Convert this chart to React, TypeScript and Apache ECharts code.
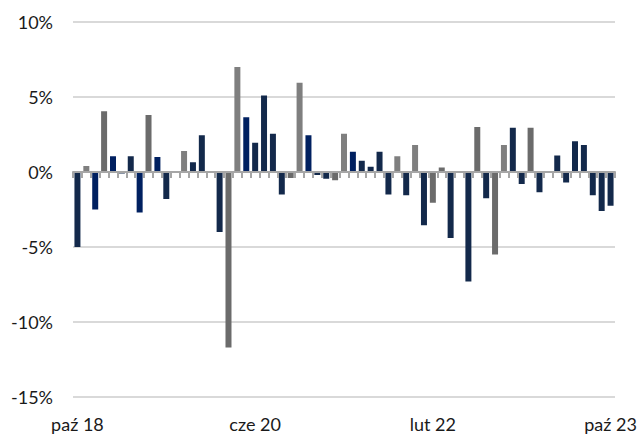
import React, { useEffect, useRef } from "react";
import * as echarts from "echarts";

const categories = [
  "paź 18", "lis 18", "gru 18",
  "sty 19", "lut 19", "mar 19", "kwi 19", "maj 19", "cze 19", "lip 19", "sie 19", "wrz 19", "paź 19", "lis 19", "gru 19",
  "sty 20", "lut 20", "mar 20", "kwi 20", "maj 20", "cze 20", "lip 20", "sie 20", "wrz 20", "paź 20", "lis 20", "gru 20",
  "sty 21", "lut 21", "mar 21", "kwi 21", "maj 21", "cze 21", "lip 21", "sie 21", "wrz 21", "paź 21", "lis 21", "gru 21",
  "sty 22", "lut 22", "mar 22", "kwi 22", "maj 22", "cze 22", "lip 22", "sie 22", "wrz 22", "paź 22", "lis 22", "gru 22",
  "sty 23", "lut 23", "mar 23", "kwi 23", "maj 23", "cze 23", "lip 23", "sie 23", "wrz 23", "paź 23",
];

const values = [
  -5.0, 0.4, -2.5, 4.05, 1.05, -0.1, 1.05, -2.7, 3.8, 1.0,
  -1.8, 0, 1.4, 0.65, 2.45, 0.05, -4.0, -11.7, 7.0, 3.65,
  1.95, 5.1, 2.55, -1.5, -0.4, 5.95, 2.45, -0.2, -0.45, -0.55,
  2.55, 1.35, 0.75, 0.35, 1.35, -1.5, 1.05, -1.55, 1.8, -3.55,
  -2.05, 0.3, -4.4, 0, -7.3, 3.0, -1.75, -5.5, 1.8, 2.95,
  -0.8, 2.95, -1.35, 0, 1.1, -0.7, 2.05, 1.8, -1.55, -2.6,
  -2.25,
];

// group of each bar: n = navy, b = blue, g = gray, d = dark gray
const groups = [
  "n", "g", "b", "d", "b", "n", "n", "b", "d", "b",
  "n", "n", "g", "n", "n", "d", "n", "d", "g", "b",
  "n", "n", "n", "n", "d", "g", "b", "n", "n", "d",
  "g", "b", "n", "n", "n", "n", "g", "n", "g", "n",
  "d", "d", "n", "n", "n", "d", "n", "d", "g", "n",
  "n", "d", "n", "n", "n", "n", "n", "n", "n", "n",
  "n",
];

const yTicks = [-15, -10, -5, 0, 5, 10];

const groupColors: Record<string, string> = {
  n: "#13294b",
  b: "#002060",
  g: "#7f7f7f",
  d: "#6b6b6b",
};

export default function App() {
  const ref = useRef<HTMLDivElement>(null);
  useEffect(() => {
    if (!ref.current) return;
    const chart = echarts.init(ref.current, undefined, { renderer: "svg" });
    const font = "Lato, 'Noto Sans', sans-serif";
    chart.setOption({
      animation: false,
      grid: { left: 73, right: 25, top: 22, bottom: 38, containLabel: false },
      xAxis: [
        {
          type: "category",
          data: categories,
          position: "bottom",
          axisLine: { show: false, onZero: false },
          axisTick: { show: false },
          axisLabel: {
            interval: 19,
            color: "#1a1a1a",
            fontSize: 18,
            fontFamily: font,
            margin: 18,
          },
          splitLine: { show: false },
        },
        {
          type: "category",
          data: categories,
          position: "top",
          z: 10,
          axisLine: { show: true, onZero: true, lineStyle: { color: "#a6a6a6", width: 2 } },
          axisTick: {
            show: true,
            inside: true,
            length: 6,
            interval: 0,
            lineStyle: { color: "#a6a6a6", width: 2 },
          },
          axisLabel: { show: false },
          splitLine: { show: false },
        },
      ],
      yAxis: {
        type: "value",
        min: yTicks[0],
        max: yTicks[yTicks.length - 1],
        interval: 5,
        axisLine: { show: false },
        axisTick: { show: false },
        axisLabel: {
          formatter: (v: number) => `${v}%`,
          color: "#1a1a1a",
          fontSize: 18,
          fontFamily: font,
          margin: 20,
        },
        splitLine: { show: true, lineStyle: { color: "#d9d9d9", width: 2 } },
      },
      series: [
        {
          type: "bar",
          xAxisIndex: 0,
          barWidth: 6,
          data: values.map((v, i) => ({
            value: v,
            itemStyle: { color: groupColors[groups[i]] },
          })),
        },
      ],
    });
    return () => chart.dispose();
  }, []);
  return (
    <div
      ref={ref}
      style={{ position: "absolute", left: 0, top: 0, width: 640, height: 435 }}
    />
  );
}
